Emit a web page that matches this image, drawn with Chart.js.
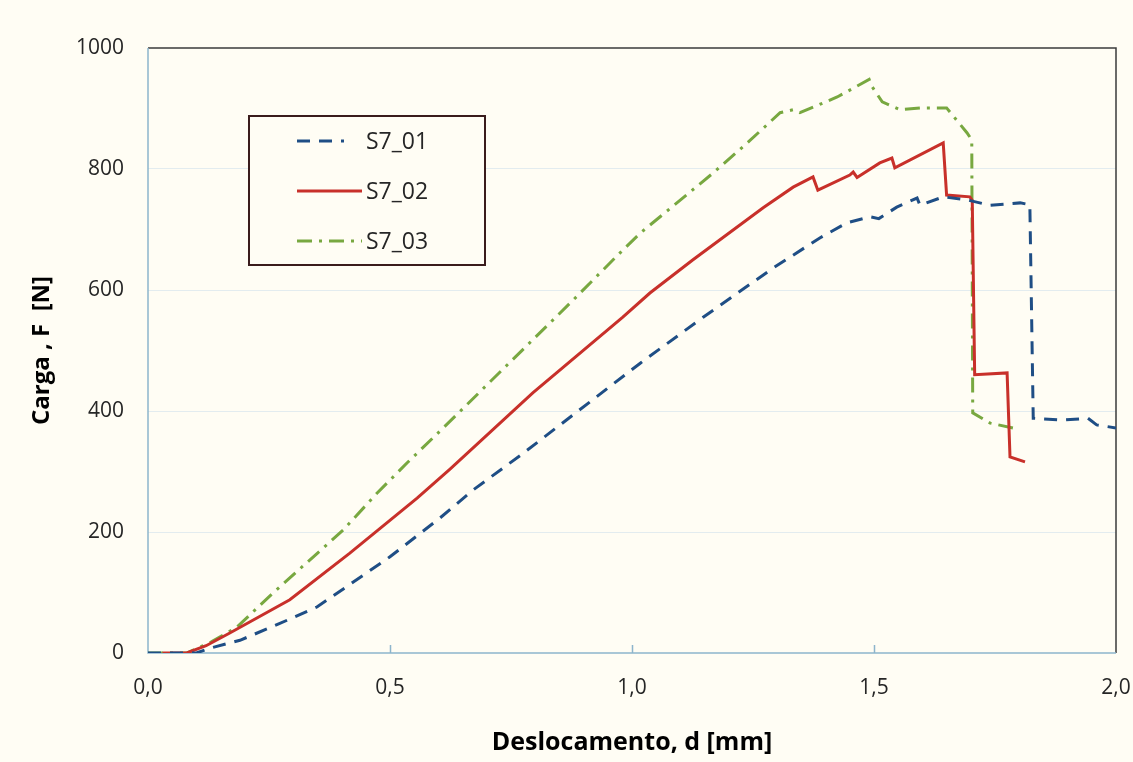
<!DOCTYPE html>
<html>
<head>
<meta charset="utf-8">
<script src="https://cdn.jsdelivr.net/npm/chart.js@4"></script>
<style>
  html, body { margin: 0; padding: 0; background: #fffdf4; }
  #wrap { width: 1133px; height: 762px; }
</style>
</head>
<body>
<div id="wrap"><canvas id="chart" width="1133" height="762"></canvas></div>
<script>
// Load vs displacement, three specimens
const s01X = [0, 0.1, 0.128, 0.19, 0.27, 0.349, 0.42, 0.5, 0.603, 0.671, 0.775, 0.913, 1.017, 1.147, 1.291, 1.388, 1.444, 1.492, 1.51, 1.547, 1.589, 1.595, 1.643, 1.692, 1.74, 1.802, 1.822, 1.829, 1.89, 1.942, 1.96, 2.0];
const s01Y = [0, 0, 8, 21, 48, 76, 115, 159, 223, 269, 330, 415, 479, 555, 636, 686, 711, 721, 718, 737, 752, 740, 754, 749, 740, 744, 741, 388, 385, 388, 377, 372];

const s02X = [0.03, 0.08, 0.12, 0.169, 0.293, 0.417, 0.556, 0.624, 0.795, 0.981, 1.037, 1.126, 1.271, 1.333, 1.374, 1.384, 1.45, 1.457, 1.465, 1.512, 1.537, 1.543, 1.643, 1.65, 1.698, 1.703, 1.708, 1.775, 1.781, 1.812];
const s02Y = [0, 0, 12, 33, 88, 165, 256, 304, 430, 555, 595, 650, 736, 770, 787, 765, 790, 795, 786, 810, 818, 802, 843, 757, 754, 748, 460, 463, 324, 316];

const s03X = [0, 0.08, 0.13, 0.184, 0.258, 0.403, 0.473, 0.535, 0.61, 0.742, 0.878, 0.981, 1.017, 1.167, 1.238, 1.306, 1.333, 1.347, 1.424, 1.49, 1.496, 1.517, 1.554, 1.599, 1.65, 1.692, 1.702, 1.704, 1.74, 1.787];
const s03Y = [0, 0, 18, 43, 99, 203, 264, 314, 372, 476, 583, 666, 694, 793, 843, 893, 898, 893, 919, 948, 936, 911, 898, 901, 901, 860, 848, 397, 380, 372];

const seriesNames = ['S7_01', 'S7_02', 'S7_03'];
const xTicks = [0, 0.5, 1.0, 1.5, 2.0];
const yTicks = [0, 200, 400, 600, 800, 1000];

const FONT = '"Open Sans", "Liberation Sans", sans-serif';
const toPoints = (xs, ys) => xs.map((x, i) => ({ x: x, y: ys[i] }));

const styles = [
    { color: '#1f4e85', dash: [13, 9] },
    { color: '#c8302a', dash: [] },
    { color: '#78a840', dash: [15, 7, 3, 7] }
];

// legend box drawn inside the plot area
const boxLegend = {
    id: 'boxLegend',
    afterDatasetsDraw(chart) {
        const ctx = chart.ctx;
        ctx.save();
        ctx.fillStyle = '#fffdf4';
        ctx.fillRect(249, 116, 236, 149);
        ctx.strokeStyle = '#3a1c1c';
        ctx.lineWidth = 2;
        ctx.strokeRect(249, 116, 236, 149);
        ctx.font = '23px ' + FONT;
        ctx.textBaseline = 'middle';
        chart.data.datasets.forEach((ds, i) => {
            const cy = 141 + i * 50;
            ctx.strokeStyle = ds.borderColor;
            ctx.lineWidth = 3;
            ctx.setLineDash(ds.borderDash);
            ctx.beginPath();
            ctx.moveTo(297, cy);
            ctx.lineTo(i === 0 ? 344 : 362, cy);
            ctx.stroke();
            ctx.setLineDash([]);
            ctx.fillStyle = '#262626';
            ctx.fillText(ds.label, 366, cy + 1);
        });
        ctx.restore();
    }
};

// plot frame: dark top/right, light blue left/bottom, small inner x ticks
const frame = {
    id: 'frame',
    beforeDatasetsDraw(chart) {
        const a = chart.chartArea;
        const ctx = chart.ctx;
        const xScale = chart.scales.x;
        ctx.save();
        ctx.lineWidth = 1.5;
        ctx.strokeStyle = '#3b3b3b';
        ctx.beginPath();
        ctx.moveTo(a.left, a.top);
        ctx.lineTo(a.right, a.top);
        ctx.lineTo(a.right, a.bottom);
        ctx.stroke();
        ctx.strokeStyle = '#8db5cc';
        ctx.beginPath();
        ctx.moveTo(a.left, a.top);
        ctx.lineTo(a.left, a.bottom);
        ctx.lineTo(a.right, a.bottom);
        xTicks.slice(1, -1).forEach(v => {
            const px = Math.round(xScale.getPixelForValue(v)) + 0.5;
            ctx.moveTo(px, a.bottom);
            ctx.lineTo(px, a.bottom - 8);
        });
        ctx.stroke();
        ctx.restore();
    }
};

const bg = {
    id: 'bg',
    beforeDraw(chart) {
        const ctx = chart.ctx;
        ctx.save();
        ctx.fillStyle = '#fffdf4';
        ctx.fillRect(0, 0, chart.width, chart.height);
        ctx.restore();
    }
};

new Chart(document.getElementById('chart'), {
    type: 'scatter',
    data: {
        datasets: [
            { label: seriesNames[0], data: toPoints(s01X, s01Y) },
            { label: seriesNames[1], data: toPoints(s02X, s02Y) },
            { label: seriesNames[2], data: toPoints(s03X, s03Y) }
        ].map((ds, i) => Object.assign(ds, {
            showLine: true,
            borderColor: styles[i].color,
            backgroundColor: styles[i].color,
            borderDash: styles[i].dash,
            borderWidth: 3,
            pointRadius: 0,
            tension: 0
        }))
    },
    options: {
        responsive: false,
        animation: false,
        layout: { padding: { top: 48, right: 17, left: 24, bottom: 0 } },
        plugins: {
            legend: { display: false },
            tooltip: { enabled: false }
        },
        scales: {
            x: {
                type: 'linear',
                min: 0,
                max: 2,
                afterBuildTicks: axis => { axis.ticks = xTicks.map(v => ({ value: v })); },
                afterFit: axis => {
                    axis.height = 109;
                    axis.paddingLeft = 0;
                    axis.paddingRight = 0;
                },
                grid: { display: false, drawTicks: false },
                border: { display: false },
                ticks: {
                    color: '#262626',
                    padding: 22,
                    font: { size: 21, family: FONT },
                    callback: v => v.toFixed(1).replace('.', ',')
                },
                title: {
                    display: true,
                    text: 'Deslocamento, d [mm]',
                    color: '#000',
                    padding: { top: 0 },
                    font: { size: 25, weight: 'bold', family: FONT }
                }
            },
            y: {
                min: 0,
                max: 1000,
                afterBuildTicks: axis => { axis.ticks = yTicks.map(v => ({ value: v })); },
                afterFit: axis => {
                    axis.width = 124;
                    axis.paddingTop = 0;
                    axis.paddingBottom = 0;
                },
                grid: {
                    color: ctx => (ctx.tick.value === 0 || ctx.tick.value === 1000) ? 'rgba(0,0,0,0)' : '#e3ecef',
                    drawTicks: false
                },
                border: { display: false },
                ticks: {
                    color: '#262626',
                    padding: 24,
                    font: { size: 21, family: FONT },
                    callback: v => String(v)
                },
                title: {
                    display: true,
                    text: 'Carga , F  [N]',
                    color: '#000',
                    padding: { bottom: 10 },
                    font: { size: 24, weight: 'bold', family: FONT }
                }
            }
        }
    },
    plugins: [bg, frame, boxLegend]
});
</script>
</body>
</html>
